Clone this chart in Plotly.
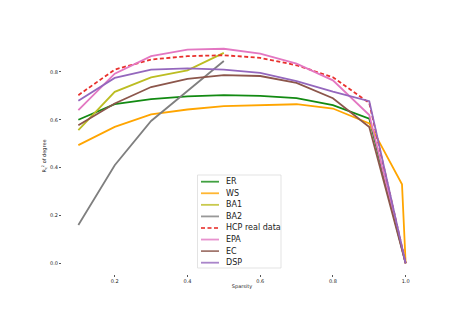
import plotly.graph_objects as go

sparsity = [0.1, 0.2, 0.3, 0.4, 0.5, 0.6, 0.7, 0.8, 0.9, 1.0]
sparsity_ws = [0.1, 0.2, 0.3, 0.4, 0.5, 0.6, 0.7, 0.8, 0.9, 0.99, 1.0]
sparsity_ba = [0.1, 0.2, 0.3, 0.4, 0.5]

er = [0.600, 0.665, 0.686, 0.698, 0.703, 0.700, 0.691, 0.661, 0.605, 0.0]
ws = [0.494, 0.570, 0.623, 0.643, 0.657, 0.661, 0.665, 0.647, 0.585, 0.330, 0.0]
ba1 = [0.557, 0.717, 0.777, 0.807, 0.880]
ba2 = [0.160, 0.410, 0.595, 0.720, 0.846]
hcp = [0.703, 0.810, 0.852, 0.866, 0.870, 0.859, 0.828, 0.778, 0.670, 0.0]
epa = [0.640, 0.793, 0.866, 0.893, 0.897, 0.877, 0.835, 0.765, 0.620, 0.0]
ec = [0.577, 0.668, 0.737, 0.771, 0.787, 0.783, 0.754, 0.690, 0.570, 0.0]
dsp = [0.680, 0.775, 0.810, 0.815, 0.810, 0.796, 0.762, 0.718, 0.678, 0.0]

names = ["ER", "WS", "BA1", "BA2", "HCP real data", "EPA", "EC", "DSP"]
colors = ["#128a12", "#ffa500", "#bcbd22", "#7f7f7f", "#e8302c", "#e377c2", "#8c564b", "#9467bd"]
dashes = ["solid", "solid", "solid", "solid", "4px,2.5px", "solid", "solid", "solid"]
xs = [sparsity, sparsity_ws, sparsity_ba, sparsity_ba, sparsity, sparsity, sparsity, sparsity]
ys = [er, ws, ba1, ba2, hcp, epa, ec, dsp]

x_ticks = [0.2, 0.4, 0.6, 0.8, 1.0]
y_ticks = [0.0, 0.2, 0.4, 0.6, 0.8]

fig = go.Figure()
for n, c, d, x, y in zip(names, colors, dashes, xs, ys):
    fig.add_trace(go.Scatter(x=x, y=y, mode="lines", name=n,
                             line=dict(color=c, width=1.8, dash=d),
                             showlegend=False))

# manual legend (matplotlib-style compact legend)
L, R, T, B = 62, 422, 38, 274
W, H = R - L, B - T
def px(v):
    return (v - L) / W
def py(v):
    return (B - v) / H

shapes = [dict(type="rect", xref="paper", yref="paper",
               x0=px(197.5), x1=px(281), y0=py(268), y1=py(175),
               line=dict(color="#dcdcdc", width=0.8), fillcolor="rgba(255,255,255,0.85)",
               layer="above")]
annotations = []
for i, (n, c, d) in enumerate(zip(names, colors, dashes)):
    yy = 181.7 + i * 11.57
    shapes.append(dict(type="line", xref="paper", yref="paper",
                       x0=px(201), x1=px(219), y0=py(yy), y1=py(yy),
                       line=dict(color=c, width=1.8, dash=d), layer="above", opacity=0.8))
    annotations.append(dict(text=n, xref="paper", yref="paper", x=px(224), y=py(yy),
                            xanchor="left", yanchor="middle", showarrow=False,
                            font=dict(size=8, color="#222222")))

fig.update_layout(
    width=469, height=313,
    margin=dict(l=L, r=469 - R, t=T, b=313 - B),
    paper_bgcolor="white", plot_bgcolor="white",
    font=dict(family="DejaVu Sans", size=5, color="#222222"),
    shapes=shapes, annotations=annotations,
    xaxis=dict(range=[0.055, 1.045], tickvals=x_ticks, tickformat=".1f",
               showgrid=False, zeroline=False, showline=False,
               ticks="outside", ticklen=2, tickwidth=0.6, tickcolor="#555555",
               tickfont=dict(size=5), title=dict(text="Sparsity", font=dict(size=5), standoff=1)),
    yaxis=dict(range=[-0.045, 0.942], tickvals=y_ticks, tickformat=".1f",
               showgrid=False, zeroline=False, showline=False,
               ticks="outside", ticklen=2, tickwidth=0.6, tickcolor="#555555",
               tickfont=dict(size=5),
               title=dict(text="R<sub>c</sub><sup>2</sup> of degree", font=dict(size=5), standoff=3)),
)

fig.write_html("out.html", config={"displayModeBar": False},
               post_script="document.body.style.margin='0px';document.body.style.overflow='hidden';")
